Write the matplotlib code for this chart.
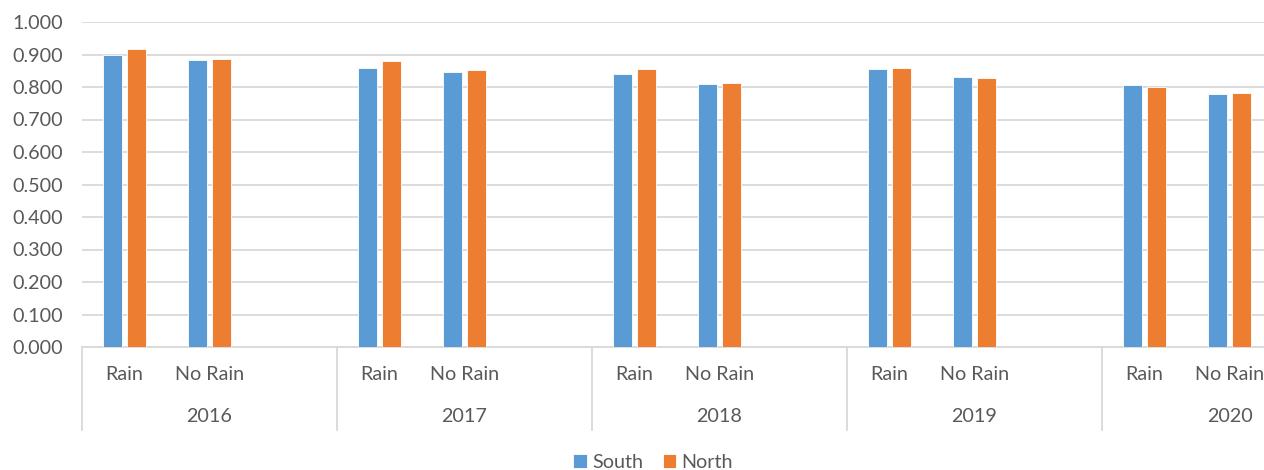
import numpy as np
import matplotlib
matplotlib.use("Agg")
import matplotlib.pyplot as plt
import matplotlib.transforms as mtransforms

plt.rcParams["font.family"] = ["Lato", "DejaVu Sans"]

years = ["2016", "2017", "2018", "2019", "2020"]
conditions = ["Rain", "No Rain"]
south = [0.898, 0.883, 0.858, 0.845, 0.841, 0.809, 0.855, 0.831, 0.805, 0.778]
north = [0.918, 0.887, 0.880, 0.852, 0.855, 0.813, 0.858, 0.827, 0.799, 0.782]
yticks = [0.0, 0.1, 0.2, 0.3, 0.4, 0.5, 0.6, 0.7, 0.8, 0.9, 1.0]

blue = "#5B9BD5"
orange = "#ED7D31"
text_c = "#595959"
grid_c = "#D9D9D9"
fs = 14.2

W, H = 1264, 470
fig = plt.figure(figsize=(W / 100, H / 100), dpi=100)
left_px, right_px, top_px, bottom_px = 82, 1264, 22, 347
ax = fig.add_axes([left_px / W, 1 - bottom_px / H, (right_px - left_px) / W, (bottom_px - top_px) / H])

# each year has three slots: Rain, No Rain and an empty spacer slot
slots = 3
pos = []
cat_labels = []
for yi, yr in enumerate(years):
    for ci, c in enumerate(conditions):
        pos.append(yi * slots + ci)
        cat_labels.append(c)
pos = np.array(pos, dtype=float)

bw = 0.228
off = 0.142
ax.bar(pos - off, south, width=bw, color=blue, edgecolor="white", linewidth=0.6, label="South", zorder=3)
ax.bar(pos + off, north, width=bw, color=orange, edgecolor="white", linewidth=0.6, label="North", zorder=3)

slot_px = 85
ax.set_xlim(-0.5, -0.5 + (right_px - left_px) / slot_px)
ax.set_ylim(0, 1.0)
ax.set_yticks(yticks)
ax.set_yticklabels([f"{v:.3f}" for v in yticks])
ax.yaxis.grid(True, color=grid_c, linewidth=1.3, zorder=0)
ax.set_axisbelow(True)
for s in ["top", "right", "left"]:
    ax.spines[s].set_visible(False)
ax.spines["bottom"].set_color(grid_c)
ax.spines["bottom"].set_linewidth(1.3)
ax.tick_params(axis="y", length=0, pad=14, labelsize=fs, labelcolor=text_c)
ax.set_xticks([])

ah = bottom_px - top_px
trans = mtransforms.blended_transform_factory(ax.transData, ax.transAxes)
for p, lab in zip(pos, cat_labels):
    ax.text(p, -28 / ah, lab, transform=trans, ha="center", va="center",
            fontsize=fs, color=text_c, clip_on=False)
for yi, yr in enumerate(years):
    ax.text(yi * slots + 1, -70 / ah, yr, transform=trans, ha="center", va="center",
            fontsize=fs, color=text_c, clip_on=False)
    ax.plot([yi * slots - 0.5] * 2, [0, -83 / ah], transform=trans, color=grid_c,
            linewidth=1.3, clip_on=False)

leg = fig.legend(loc="center", bbox_to_anchor=(653 / W, 1 - 462 / H), ncol=2, frameon=False,
                 fontsize=fs, handlelength=0.7, handleheight=0.7, handletextpad=0.25,
                 columnspacing=1.0, labelcolor=text_c)

fig.savefig("out.png", dpi=100)
